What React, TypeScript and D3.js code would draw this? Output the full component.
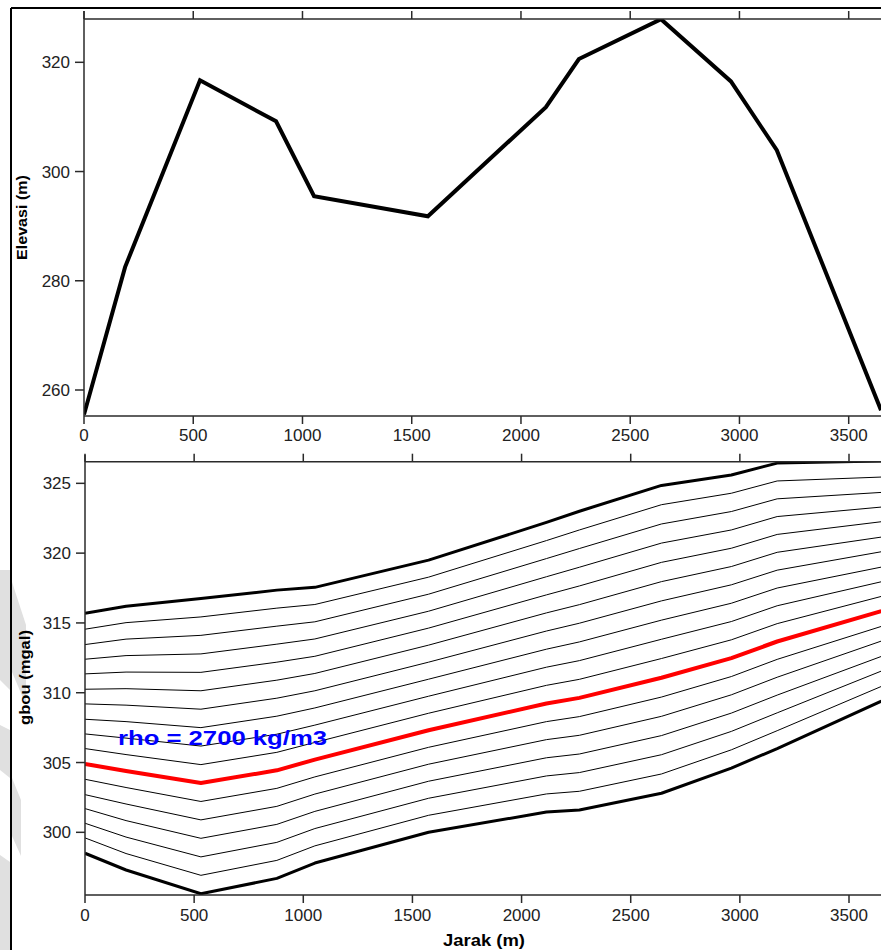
import React from "react";
import * as d3 from "d3";

// ---------- DATA ----------
const stations = [0, 188, 531, 879, 1053, 1574, 2114, 2265, 2641, 2961, 3171, 3648];
const elevation = [255.5, 282.5, 316.7, 309.2, 295.5, 291.8, 311.8, 320.6, 327.9, 316.5, 303.9, 256.3];

const densities = [2200, 2250, 2300, 2350, 2400, 2450, 2500, 2550, 2600, 2650, 2700, 2750, 2800, 2850, 2900, 2950, 3000];
const gbou2200 = [315.70, 316.20, 316.75, 317.35, 317.55, 319.50, 322.20, 323.00, 324.85, 325.60, 326.45, 326.60];
const gbou2250 = [314.55, 315.02, 315.43, 316.06, 316.32, 318.28, 320.90, 321.66, 323.47, 324.29, 325.17, 325.45];
const gbou2300 = [313.45, 313.84, 314.11, 314.77, 315.08, 317.06, 319.61, 320.33, 322.09, 322.98, 323.89, 324.35];
const gbou2350 = [312.40, 312.66, 312.78, 313.48, 313.85, 315.84, 318.31, 318.99, 320.72, 321.66, 322.62, 323.30];
const gbou2400 = [311.35, 311.48, 311.46, 312.19, 312.61, 314.63, 317.01, 317.65, 319.34, 320.35, 321.34, 322.25];
const gbou2450 = [310.25, 310.29, 310.14, 310.90, 311.38, 313.41, 315.72, 316.31, 317.96, 319.04, 320.06, 321.15];
const gbou2500 = [309.20, 309.11, 308.82, 309.61, 310.14, 312.19, 314.42, 314.98, 316.58, 317.73, 318.78, 320.10];
const gbou2550 = [308.10, 307.93, 307.50, 308.32, 308.91, 310.97, 313.12, 313.64, 315.20, 316.41, 317.50, 319.00];
const gbou2600 = [307.05, 306.75, 306.18, 307.03, 307.68, 309.75, 311.83, 312.30, 313.83, 315.10, 316.23, 317.95];
const gbou2650 = [306.00, 305.57, 304.85, 305.73, 306.44, 308.53, 310.53, 310.96, 312.45, 313.79, 314.95, 316.90];
const gbou2700 = [304.90, 304.39, 303.53, 304.44, 305.21, 307.31, 309.23, 309.63, 311.07, 312.48, 313.67, 315.85];
const gbou2750 = [303.80, 303.21, 302.21, 303.15, 303.97, 306.09, 307.93, 308.29, 309.69, 311.16, 312.39, 314.75];
const gbou2800 = [302.70, 302.03, 300.89, 301.86, 302.74, 304.88, 306.64, 306.95, 308.31, 309.85, 311.11, 313.70];
const gbou2850 = [301.70, 300.84, 299.57, 300.57, 301.50, 303.66, 305.34, 305.61, 306.93, 308.54, 309.83, 312.60];
const gbou2900 = [300.65, 299.66, 298.24, 299.28, 300.27, 302.44, 304.04, 304.28, 305.56, 307.23, 308.56, 311.55];
const gbou2950 = [299.60, 298.48, 296.92, 297.99, 299.03, 301.22, 302.75, 302.94, 304.18, 305.91, 307.28, 310.45];
const gbou3000 = [298.50, 297.30, 295.60, 296.70, 297.80, 300.00, 301.45, 301.60, 302.80, 304.60, 306.00, 309.40];
const gbouSeries = [gbou2200, gbou2250, gbou2300, gbou2350, gbou2400, gbou2450, gbou2500, gbou2550, gbou2600,
  gbou2650, gbou2700, gbou2750, gbou2800, gbou2850, gbou2900, gbou2950, gbou3000];
const highlightDensity = 2700;

const xTicks = [0, 500, 1000, 1500, 2000, 2500, 3000, 3500];
const elevTicks = [260, 280, 300, 320];
const gbouTicks = [300, 305, 310, 315, 320, 325];

// ---------- LAYOUT ----------
const W = 881, H = 950;
const AX = "#2a2a2a";
const FONT = "'Liberation Sans', Arial, sans-serif";

const xTop = d3.scaleLinear().domain([0, 3500]).range([84, 848.7]);
const yTop = d3.scaleLinear().domain([255.24, 327.93]).range([416, 19]);
const xBot = d3.scaleLinear().domain([0, 3500]).range([85, 849]);
const yBot = d3.scaleLinear().domain([295.51, 326.55]).range([895, 461.7]);

export default function App() {
  const elevLine = d3.line<number>().x((_, i) => xTop(stations[i])).y((d) => yTop(d));
  const gLine = d3.line<number>().x((_, i) => xBot(stations[i])).y((d) => yBot(d));

  const topY0 = yTop.range()[0], topY1 = yTop.range()[1];
  const botY0 = yBot.range()[0], botY1 = yBot.range()[1];

  const thin = densities.map((d, i) => ({ d, i })).filter(({ d, i }) => i !== 0 && i !== densities.length - 1 && d !== highlightDensity);
  const thick = [0, densities.length - 1];
  const redIdx = densities.indexOf(highlightDensity);

  const tickText = { fontFamily: FONT, fontSize: 17, fill: "#222" } as const;

  return (
    <svg width={W} height={H} style={{ position: "absolute", left: 0, top: 0, background: "#fff" }}>
      <rect x={0} y={0} width={W} height={H} fill="#fff" />
      {/* watermark fragments at left edge */}
      <g fill="#e0e0e0">
        <polygon points="0,570 10,570 10,690 0,680" />
        <polygon points="12,582 26,625 26,705 12,672" />
        <polygon points="0,725 10,730 10,778 0,770" />
        <polygon points="12,778 21,800 21,856 12,836" />
        <polygon points="0,855 10,862 10,950 0,950" />
      </g>
      {/* window frame */}
      <line x1={11} y1={8} x2={W} y2={8} stroke="#000" strokeWidth={2} />
      <line x1={11} y1={8} x2={11} y2={H} stroke="#000" strokeWidth={2} />

      <defs>
        <clipPath id="clipTop"><rect x={84} y={topY1} width={W - 84} height={topY0 - topY1} /></clipPath>
        <clipPath id="clipBot"><rect x={85} y={botY1} width={W - 85} height={botY0 - botY1} /></clipPath>
      </defs>

      {/* ===== TOP CHART ===== */}
      <g clipPath="url(#clipTop)">
        <path d={elevLine(elevation) || ""} fill="none" stroke="#000" strokeWidth={4} strokeLinejoin="miter" />
      </g>
      <g stroke={AX} strokeWidth={1.5}>
        <line x1={84} y1={topY1 - 8} x2={84} y2={topY0} />
        <line x1={84} y1={topY0} x2={W} y2={topY0} />
        <line x1={84} y1={topY1} x2={W} y2={topY1} />
        {xTicks.map((t) => (
          <g key={"tt" + t}>
            <line x1={xTop(t)} y1={topY0} x2={xTop(t)} y2={topY0 + 8} />
            <line x1={xTop(t)} y1={topY1} x2={xTop(t)} y2={topY1 - 8} />
          </g>
        ))}
        {elevTicks.map((t) => (
          <line key={"et" + t} x1={75} y1={yTop(t)} x2={84} y2={yTop(t)} />
        ))}
      </g>
      {xTicks.map((t) => (
        <text key={"tl" + t} x={xTop(t)} y={441} textAnchor="middle" {...tickText}>{t}</text>
      ))}
      {elevTicks.map((t) => (
        <text key={"el" + t} x={70} y={yTop(t) + 6} textAnchor="end" {...tickText}>{t}</text>
      ))}
      <text transform="translate(27,217.5) rotate(-90)" textAnchor="middle" fontFamily={FONT} fontWeight="bold"
        fontSize={15} textLength={85} lengthAdjust="spacingAndGlyphs" fill="#000">Elevasi (m)</text>

      {/* ===== BOTTOM CHART ===== */}
      <g clipPath="url(#clipBot)" fill="none" strokeLinejoin="round">
        {thin.map(({ d, i }) => (
          <path key={"g" + d} d={gLine(gbouSeries[i]) || ""} stroke="#000" strokeWidth={1} />
        ))}
        {thick.map((i) => (
          <path key={"gt" + i} d={gLine(gbouSeries[i]) || ""} stroke="#000" strokeWidth={3} />
        ))}
        <path d={gLine(gbouSeries[redIdx]) || ""} stroke="#ff0000" strokeWidth={4} />
      </g>
      <g stroke={AX} strokeWidth={1.5}>
        <line x1={85} y1={botY1 - 7} x2={85} y2={botY0} />
        <line x1={85} y1={botY0} x2={W} y2={botY0} />
        <line x1={85} y1={botY1} x2={W} y2={botY1} />
        {xTicks.map((t) => (
          <g key={"bt" + t}>
            <line x1={xBot(t)} y1={botY0} x2={xBot(t)} y2={botY0 + 8} />
            <line x1={xBot(t)} y1={botY1} x2={xBot(t)} y2={botY1 - 8} />
          </g>
        ))}
        {gbouTicks.map((t) => (
          <line key={"gt" + t} x1={76} y1={yBot(t)} x2={85} y2={yBot(t)} />
        ))}
      </g>
      {xTicks.map((t) => (
        <text key={"bl" + t} x={xBot(t)} y={921} textAnchor="middle" {...tickText}>{t}</text>
      ))}
      {gbouTicks.map((t) => (
        <text key={"gl" + t} x={71} y={yBot(t) + 6} textAnchor="end" {...tickText}>{t}</text>
      ))}
      <text transform="translate(30,677.5) rotate(-90)" textAnchor="middle" fontFamily={FONT} fontWeight="bold"
        fontSize={15} textLength={95} lengthAdjust="spacingAndGlyphs" fill="#000">gbou (mgal)</text>
      <text x={484} y={946} textAnchor="middle" fontFamily={FONT} fontWeight="bold"
        fontSize={16.5} textLength={82} lengthAdjust="spacingAndGlyphs" fill="#000">Jarak (m)</text>
      <text x={118} y={745} fontFamily={FONT} fontWeight="bold" fontSize={21} textLength={209}
        lengthAdjust="spacingAndGlyphs" fill="#0000ff">rho = {highlightDensity} kg/m3</text>
    </svg>
  );
}
